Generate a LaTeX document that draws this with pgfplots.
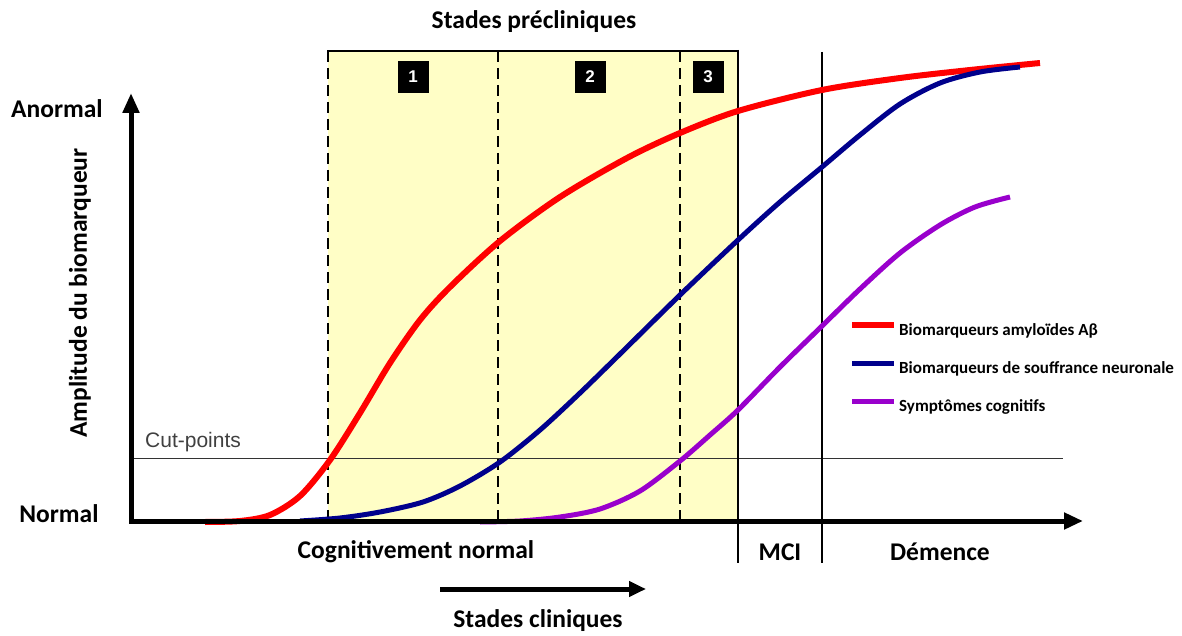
\documentclass[border=0pt]{standalone}
\usepackage{fontspec}
\setmainfont{Carlito}
\newfontfamily\arial{Liberation Sans}
\usepackage{pgfplots}
\pgfplotsset{compat=1.18}
\usetikzlibrary{arrows.meta}
\definecolor{ylw}{RGB}{255,254,198}
\definecolor{cred}{RGB}{255,0,0}
\definecolor{cblue}{RGB}{0,0,140}
\definecolor{cpurple}{RGB}{153,0,204}
\begin{document}
\begin{tikzpicture}
\begin{axis}[x=1bp, y=1bp, y dir=reverse, xmin=0, xmax=1182, ymin=0, ymax=634,
  hide axis, clip=false, scale only axis,
  legend style={at={(axis cs:846,319)}, anchor=north west, draw=none, fill=none,
    font=\fontsize{17bp}{19bp}\selectfont\bfseries, row sep=21bp,
    /tikz/every even column/.append style={column sep=12bp}},
  legend cell align=left,
  legend image code/.code={\draw[#1] (0bp,5bp) -- (42bp,5bp);},
]
\path (axis cs:0,0) rectangle (axis cs:1182,634);
% preclinical zone
\addplot[fill=ylw, draw=none, forget plot] coordinates {(328,51) (738,51) (738,521) (328,521)} -- cycle;
% cut-points
\addplot[black!80, line width=1bp, forget plot] coordinates {(131,458) (1063,458)};
% dashed separators
\addplot[black, line width=2.5bp, dash pattern=on 11bp off 6bp, forget plot] coordinates {(328,51) (328,521)};
\addplot[black, line width=2.5bp, dash pattern=on 11bp off 6bp, forget plot] coordinates {(498,51) (498,521)};
\addplot[black, line width=2.5bp, dash pattern=on 11bp off 6bp, forget plot] coordinates {(680,51) (680,521)};
% solid frame lines
\addplot[black, line width=2.5bp, forget plot] coordinates {(327,51) (739,51)};
\addplot[black, line width=2.5bp, forget plot] coordinates {(738,50) (738,563)};
\addplot[black, line width=2bp, forget plot] coordinates {(822,52) (822,563)};
% curves
\addplot[cred, line width=6bp, smooth] coordinates {
(205,522) (240,521) (270,515) (300,496) (330,460) (360,413) (390,363) (420,320) (450,287) (500,241) (560,197) (627,158) (680,133) (738,111) (822,90) (900,78) (970,70) (1040,63)};
\addlegendentry{Biomarqueurs amyloïdes Aβ}
\addplot[cblue, line width=5bp, smooth] coordinates {
(300,521) (340,518) (380,512) (423,502) (460,486) (500,462) (540,430) (580,393) (620,354) (680,295) (738,240) (780,202) (822,167) (860,135) (900,104) (940,83) (980,72) (1020,67)};
\addlegendentry{Biomarqueurs de souffrance neuronale}
\addplot[cpurple, line width=5bp, smooth] coordinates {
(480,522) (520,521) (560,517) (600,509) (640,491) (680,461) (710,435) (738,410) (780,367) (822,326) (860,289) (900,253) (940,225) (975,207) (1010,197)};
\addlegendentry{Symptômes cognitifs}
% axes
\addplot[black, line width=5bp, -{Triangle[length=20bp,width=16bp]}, forget plot] coordinates {(131,523) (131,93)};
\addplot[black, line width=5bp, -{Triangle[length=19bp,width=16bp]}, forget plot] coordinates {(129,521) (1083,521)};
% clinical arrow
\addplot[black, line width=5bp, -{Triangle[length=17bp,width=15bp]}, forget plot] coordinates {(440,589) (646,589)};
% texts
\node[font=\fontsize{25.5bp}{30bp}\selectfont\bfseries] at (axis cs:534,22) {Stades précliniques};
\node[font=\fontsize{25.5bp}{30bp}\selectfont\bfseries] at (axis cs:538,621) {Stades cliniques};
\node[font=\fontsize{25.5bp}{30bp}\selectfont\bfseries] at (axis cs:416,552) {Cognitivement normal};
\node[font=\fontsize{25.5bp}{30bp}\selectfont\bfseries] at (axis cs:780,552) {MCI};
\node[font=\fontsize{25.5bp}{30bp}\selectfont\bfseries] at (axis cs:940,552) {Démence};
\node[font=\fontsize{25.5bp}{30bp}\selectfont\bfseries] at (axis cs:57,109) {Anormal};
\node[font=\fontsize{25.5bp}{30bp}\selectfont\bfseries] at (axis cs:59,514) {Normal};
\node[font=\fontsize{25.5bp}{30bp}\selectfont\bfseries, rotate=90] at (axis cs:80,293) {Amplitude du biomarqueur};
\node[font=\arial\fontsize{21bp}{24bp}\selectfont, text=black!75, anchor=base west, inner sep=0pt] at (axis cs:145,447) {Cut-points};
\node[fill=black, text=white, minimum width=31bp, minimum height=32bp, inner sep=0pt, font=\arial\bfseries\fontsize{17bp}{20bp}\selectfont] at (axis cs:413,77) {1};
\node[fill=black, text=white, minimum width=31bp, minimum height=32bp, inner sep=0pt, font=\arial\bfseries\fontsize{17bp}{20bp}\selectfont] at (axis cs:590,77) {2};
\node[fill=black, text=white, minimum width=31bp, minimum height=32bp, inner sep=0pt, font=\arial\bfseries\fontsize{17bp}{20bp}\selectfont] at (axis cs:708,77) {3};
\end{axis}
\end{tikzpicture}
\end{document}
